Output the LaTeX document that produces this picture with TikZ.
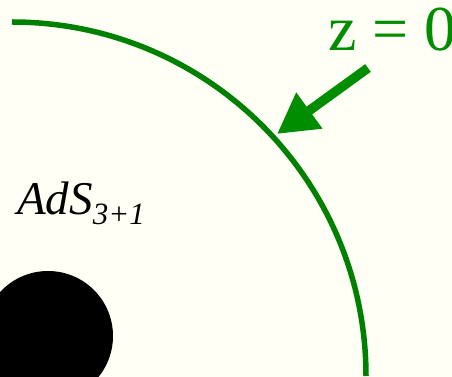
\documentclass[tikz,border=0pt]{standalone}
\usepackage{fontspec}
\setmainfont{Liberation Serif}
\usepackage{xcolor}
\usetikzlibrary{arrows.meta}

\definecolor{bggreen}{RGB}{0,128,0}
\definecolor{arrgreen}{RGB}{0,142,0}
\definecolor{cream}{RGB}{255,255,245}

\begin{document}
\begin{tikzpicture}[x=1pt, y=1pt,
    bound/.style={draw=bggreen, line width=5.5pt},
    pointer/.style={-{Triangle[length=40pt, width=42pt]}, draw=arrgreen,
                    line width=9.5pt},
    lbl/.style={inner sep=0pt, anchor=base west}
  ]
  \fill[cream] (0,0) rectangle (452,377);
  \useasboundingbox (0,0) rectangle (452,377);

  % boundary of the space
  \draw[bound] (12,355) arc[start angle=90, end angle=0, radius=354];

  % black hole
  \fill[black] (48,41) circle[radius=65];

  \node[lbl, text=arrgreen, font=\fontsize{64}{68}\selectfont] (zlbl) at (328,326) {z = 0};
  \node[lbl, font=\fontsize{47}{50}\selectfont\itshape] (ads) at (17,162)
    {AdS\raisebox{-10pt}{\fontsize{31}{31}\selectfont 3+1}};

  \coordinate (tail) at (368,309);
  \coordinate (tip) at (277,243);
  \draw[pointer] (tail) -- (tip);
\end{tikzpicture}
\end{document}
